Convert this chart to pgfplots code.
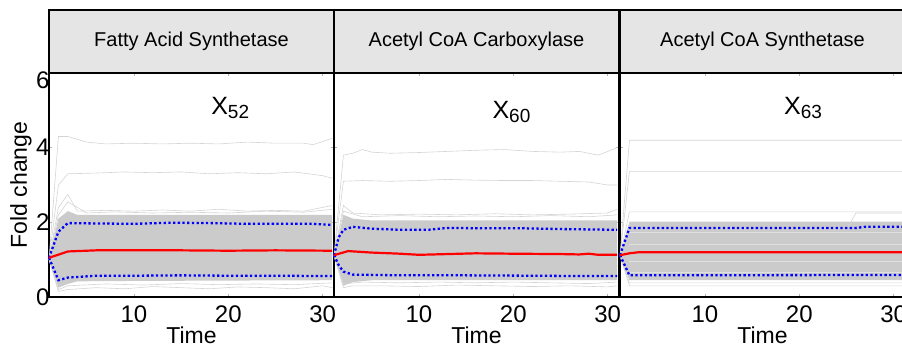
\documentclass[border=0pt]{standalone}
\usepackage{fontspec}
\setmainfont{Liberation Sans}
\usepackage{pgfplots}
\pgfplotsset{compat=1.18}
\definecolor{hdr}{RGB}{229,229,229}
\definecolor{dense}{RGB}{203,203,203}
\definecolor{fringe}{RGB}{212,212,212}
\definecolor{stripe}{RGB}{224,224,224}
\pgfplotsset{
 panel/.style={
  at={#1}, anchor=south west, scale only axis, width=285pt, height=224pt,
  xmin=1, xmax=31.2, ymin=0, ymax=6, xtick={10,20,30}, ytick={0,2,4,6},
  clip=false,
  axis line style={line width=1.6pt, black},
  tick style={gray!60, line width=0.5pt}, major tick length=3pt, tick align=inside,
  /pgf/number format/assume math mode=true,
  ticklabel style={font=\fontsize{24}{24}\selectfont},
  xticklabel style={yshift=-5pt},
  xlabel={Time},
  xlabel style={font=\fontsize{23}{23}\selectfont, at={(rel axis cs:0.5,0)}, anchor=base, yshift=-46pt},
 },
 med/.style={red, line width=2.2pt},
 qnt/.style={blue, line width=2.3pt, dash pattern=on 2.3pt off 2.4pt},
 fr/.style={fringe, line width=0.6pt},
 st/.style={stripe, line width=0.8pt},
}
\newcommand{\hdr}[1]{%
  \draw[line width=1.6pt, fill=hdr] (rel axis cs:0,1) rectangle (rel axis cs:1,1.28125);
  \node[font=\fontsize{20}{20}\selectfont] at (rel axis cs:0.5,1.1406) {#1};}
\newcommand{\xlab}[3]{\node at (axis cs:#1,#2) {\fontsize{25}{25}\selectfont X\raisebox{-4pt}{\fontsize{19}{19}\selectfont #3}};}
\begin{document}
\begin{tikzpicture}
% ---------------- Panel 1
\begin{axis}[panel={(49pt,49pt)},
  yticklabels={0,2,4,\raisebox{-7pt}[17pt][0pt]{6}},
  yticklabel style={xshift=4pt},
  ylabel={Fold change},
  ylabel style={font=\fontsize{23}{23}\selectfont, at={(rel axis cs:-0.0772,0.5)}, anchor=base}]
\addplot[fill=dense, draw=none] coordinates {(1,1.0)(2,2.1)(3,2.3)(4,2.2)(10,2.2)(20,2.2)(31,2.2)(31,0.45)(20,0.44)(10,0.43)(4,0.42)(3,0.35)(2,0.25)(1,1.0)};
\addplot[fr] coordinates {(1,1)(2,4.3)(3,4.3)(5,4.15)(7,4.1)(10,4.12)(13,4.1)(16,4.12)(19,4.1)(22,4.15)(25,4.12)(28,4.12)(29,4.08)(31,4.25)};
\addplot[fr] coordinates {(1,1)(2,3.0)(3,3.3)(6,3.32)(9,3.35)(12,3.33)(15,3.35)(18,3.3)(21,3.33)(24,3.3)(27,3.35)(30,3.25)(31,3.18)};
\addplot[fr] coordinates {(1,1)(2,2.4)(3,2.75)(4,2.3)(7,2.32)(10,2.3)(13,2.33)(16,2.3)(19,2.35)(22,2.3)(25,2.32)(28,2.3)(31,2.45)};
\addplot[fr] coordinates {(1,1)(2,2.2)(3,2.55)(5,2.25)(8,2.28)(12,2.25)(16,2.27)(20,2.25)(24,2.3)(28,2.27)(31,2.35)};
\addplot[fr] coordinates {(1,1)(2,0.15)(3,0.2)(6,0.25)(9,0.22)(12,0.28)(15,0.25)(18,0.22)(21,0.27)(24,0.25)(27,0.22)(30,0.3)(31,0.25)};
\addplot[fr] coordinates {(1,1)(2,0.2)(3,0.3)(7,0.35)(11,0.32)(15,0.36)(19,0.33)(23,0.35)(27,0.33)(31,0.38)};
\addplot[qnt] coordinates {(1,1.05)(2,1.75)(3,1.98)(6,1.97)(10,1.96)(14,1.99)(18,1.98)(22,1.96)(26,1.96)(29,1.96)(31,1.93)};
\addplot[qnt] coordinates {(1,1.05)(2,0.45)(3,0.52)(6,0.57)(10,0.57)(15,0.58)(20,0.57)(25,0.57)(31,0.56)};
\addplot[med] coordinates {(1,1.05)(3,1.22)(6,1.25)(10,1.25)(15,1.25)(20,1.24)(25,1.25)(31,1.24)};
\xlab{20.2}{5.05}{52}
\hdr{Fatty Acid Synthetase}
\end{axis}
% ---------------- Panel 2
\begin{axis}[panel={(334pt,49pt)}, yticklabels={}]
\addplot[fill=dense, draw=none] coordinates {(1,1.1)(2,2.2)(3,2.1)(5,2.05)(10,2.05)(20,2.05)(31,2.05)(31,0.45)(20,0.45)(5,0.45)(3,0.4)(2,0.3)(1,1.1)};
\addplot[fr] coordinates {(1,1.1)(2,3.8)(3,3.85)(4,3.95)(5,3.88)(7,3.85)(10,3.87)(13,3.9)(16,3.93)(19,3.95)(22,3.9)(25,3.88)(27,3.9)(29,3.8)(31,4.0)};
\addplot[fr] coordinates {(1,1.1)(2,3.1)(4,3.12)(7,3.1)(10,3.12)(13,3.15)(16,3.13)(19,3.12)(22,3.12)(25,3.1)(28,3.08)(30,3.0)(31,3.0)};
\addplot[fr] coordinates {(1,1.1)(2,2.45)(3,2.25)(6,2.2)(10,2.22)(14,2.2)(18,2.23)(22,2.2)(26,2.22)(30,2.25)(31,2.35)};
\addplot[fr] coordinates {(1,1.1)(2,2.3)(4,2.15)(8,2.18)(12,2.15)(16,2.17)(20,2.15)(24,2.18)(28,2.15)(31,2.2)};
\addplot[fr] coordinates {(1,1.1)(2,0.25)(3,0.3)(6,0.3)(10,0.28)(14,0.32)(18,0.3)(22,0.28)(26,0.3)(30,0.27)(31,0.3)};
\addplot[fr] coordinates {(1,1.1)(2,0.35)(4,0.4)(8,0.38)(12,0.4)(16,0.38)(20,0.4)(24,0.38)(28,0.36)(31,0.4)};
\addplot[qnt] coordinates {(1,1.12)(1.5,1.6)(2,1.8)(3,1.88)(5,1.83)(8,1.8)(11,1.8)(13,1.85)(17,1.84)(21,1.84)(25,1.82)(28,1.81)(31,1.8)};
\addplot[qnt] coordinates {(1,1.12)(1.5,0.85)(2,0.68)(3,0.6)(8,0.58)(15,0.58)(22,0.57)(28,0.56)(31,0.56)};
\addplot[med] coordinates {(1,1.12)(2.5,1.23)(5,1.19)(8,1.16)(10,1.13)(13,1.15)(16,1.17)(20,1.16)(25,1.15)(27,1.14)(28,1.16)(29,1.13)(31,1.13)};
\xlab{19.8}{4.96}{60}
\hdr{Acetyl CoA Carboxylase}
\end{axis}
% ---------------- Panel 3
\begin{axis}[panel={(620pt,49pt)}, yticklabels={}]
\addplot[fill=dense, draw=none] coordinates {(1,1.1)(2,2.02)(31,2.02)(31,0.45)(2,0.45)(1,1.1)};
\addplot[st] coordinates {(2,0.65)(31,0.65)};
\addplot[st] coordinates {(2,0.95)(31,0.95)};
\addplot[st] coordinates {(2,1.42)(31,1.42)};
\addplot[st] coordinates {(2,1.72)(31,1.72)};
\addplot[fr] coordinates {(1,1.1)(2,4.2)(31,4.2)};
\addplot[fr] coordinates {(1,1.1)(2,3.36)(31,3.36)};
\addplot[fr] coordinates {(1,1.1)(2,2.28)(31,2.28)};
\addplot[fr] coordinates {(1,1.1)(2,1.8)(25,1.8)(26,2.25)(31,2.25)};
\addplot[fr] coordinates {(1,1.1)(2,0.3)(31,0.3)};
\addplot[fr] coordinates {(1,1.1)(2,0.38)(31,0.38)};
\addplot[qnt] coordinates {(1,1.12)(2,1.85)(26,1.85)(27,1.88)(31,1.88)};
\addplot[qnt] coordinates {(1,1.12)(2,0.58)(31,0.59)};
\addplot[med] coordinates {(1,1.12)(2,1.17)(3,1.2)(31,1.2)};
\xlab{20.4}{5.06}{63}
\hdr{Acetyl CoA Synthetase}
\end{axis}
\pgfresetboundingbox
\path[use as bounding box] (0,0) rectangle (902pt,346pt);
\end{tikzpicture}
\end{document}
